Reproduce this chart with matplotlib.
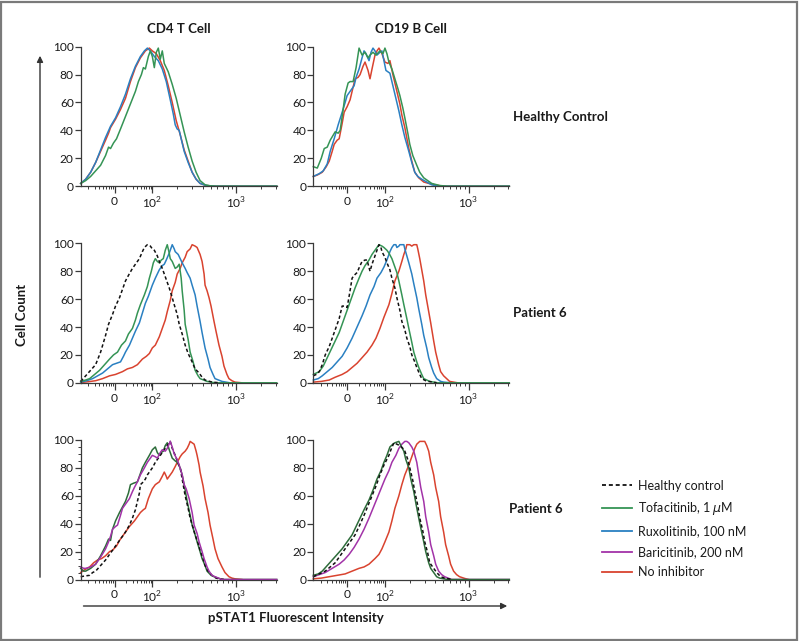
import numpy as np
import matplotlib
matplotlib.use('Agg')
import matplotlib.pyplot as plt
from matplotlib import patches
from matplotlib.lines import Line2D

plt.rcParams['font.family'] = ['Lato', 'DejaVu Sans']
plt.rcParams['mathtext.fontset'] = 'custom'
plt.rcParams['mathtext.rm'] = 'Lato'
plt.rcParams['mathtext.it'] = 'DejaVu Sans:italic'

# x = fluorescence channel (display units along the axis), y = % of max cell count
# --- Healthy control, CD4 T cell ---
cd4_hc_none = [(0, 2), (5, 5), (10, 10), (15, 17), (20, 25), (25, 33), (28, 38), (30, 42), (35, 48), (40, 55),
               (45, 63), (50, 75), (55, 85), (60, 92), (65, 97), (69, 99), (72, 97), (76, 95), (80, 90),
               (84, 83), (88, 72), (92, 60), (96, 47), (100, 37), (104, 26), (108, 18), (112, 10),
               (116, 5), (120, 2), (126, 0.5), (135, 0), (197, 0)]
cd4_hc_ruxo = [(0, 2), (5, 5), (10, 10), (15, 17), (20, 26), (25, 35), (30, 43), (35, 49), (40, 57), (45, 66),
               (50, 77), (55, 86), (60, 93), (64, 97), (67, 99), (70, 97), (74, 93), (78, 90), (82, 84),
               (86, 75), (90, 62), (93, 52), (95, 44), (97, 41), (99, 40), (101, 34), (104, 25), (108, 17),
               (112, 10), (116, 5), (120, 2), (126, 0.5), (135, 0), (197, 0)]
cd4_hc_tofa = [(0, 2), (5, 4), (10, 7), (15, 11), (20, 15), (25, 22), (28, 28), (30, 27), (33, 31), (36, 34),
               (40, 41), (45, 50), (50, 59), (55, 68), (58, 75), (61, 80), (63, 85), (65, 84), (68, 93),
               (70, 97), (72, 93), (74, 85), (76, 96), (78, 99), (80, 91), (82, 97), (84, 88), (88, 82),
               (92, 73), (96, 63), (100, 51), (104, 39), (108, 28), (112, 18), (116, 10), (120, 4),
               (125, 1), (130, 0.3), (136, 0), (197, 0)]

# --- Healthy control, CD19 B cell ---
cd19_hc_tofa = [(0, 14), (4, 13), (8, 20), (11, 27), (14, 28), (17, 33), (22, 39), (25, 38), (27, 40), (30, 55),
                (32, 66), (35, 74), (37, 75), (40, 75), (43, 85), (46, 99), (49, 94), (52, 96), (55, 92),
                (57, 94), (60, 96), (63, 94), (67, 97), (70, 95), (72, 99), (74, 95), (76, 89), (79, 84),
                (82, 77), (85, 70), (87, 65), (90, 56), (92, 49), (95, 38), (97, 30), (100, 22), (104, 15),
                (107, 10), (111, 6), (115, 4), (119, 2), (127, 0.5), (135, 0), (197, 0)]
cd19_hc_ruxo = [(0, 7), (3, 8), (6, 9), (10, 11), (14, 16), (17, 25), (21, 34), (25, 44), (29, 53), (32, 60),
                (34, 65), (37, 68), (41, 72), (43, 78), (46, 84), (49, 92), (51, 97), (53, 95), (56, 90),
                (58, 96), (60, 99), (62, 97), (64, 94), (67, 96), (69, 97), (71, 90), (73, 83), (75, 82),
                (77, 81), (80, 72), (83, 63), (86, 54), (89, 44), (92, 35), (96, 25), (99, 17), (102, 10),
                (105, 7), (109, 5), (114, 3), (119, 1), (126, 0), (197, 0)]
cd19_hc_none = [(0, 7), (4, 8), (9, 10), (13, 14), (16, 18), (19, 25), (21, 30), (24, 33), (26, 34), (29, 45),
                (31, 53), (34, 57), (37, 62), (39, 68), (42, 77), (45, 78), (47, 80), (50, 86), (52, 89),
                (55, 83), (57, 77), (59, 84), (62, 94), (64, 97), (66, 99), (69, 95), (72, 89), (75, 88),
                (77, 90), (80, 80), (84, 68), (87, 59), (89, 51), (92, 42), (96, 27), (99, 18), (102, 10),
                (106, 6), (111, 3), (116, 2), (122, 1), (130, 0), (197, 0)]

# --- Patient 6, CD4 T cell (tofacitinib / ruxolitinib) ---
cd4_p6_hc = [(0, 1), (5, 5), (10, 9), (15, 13), (20, 22), (25, 34), (28, 42), (32, 49), (35, 55), (39, 61),
             (42, 67), (45, 73), (48, 77), (52, 82), (55, 85), (59, 89), (62, 94), (64, 97), (67, 99),
             (70, 98), (72, 96), (74, 95), (77, 91), (79, 87), (82, 82), (84, 78), (87, 72), (89, 68),
             (92, 61), (94, 56), (97, 49), (99, 42), (102, 35), (105, 27), (108, 21), (112, 15), (115, 10),
             (119, 7), (122, 4), (125, 2), (132, 0.5), (140, 0)]
cd4_p6_tofa = [(0, 1), (5, 2), (9, 3), (14, 6), (19, 9), (24, 13), (29, 17), (33, 20), (37, 22), (41, 27),
               (45, 30), (48, 35), (52, 39), (55, 45), (57, 50), (60, 56), (64, 63), (67, 69), (69, 75),
               (71, 80), (73, 86), (75, 89), (77, 87), (79, 86), (81, 88), (83, 89), (85, 95), (87, 99),
               (89, 93), (90, 89), (92, 87), (95, 82), (97, 83), (99, 85), (101, 75), (102, 66), (104, 52),
               (105, 42), (108, 31), (110, 22), (113, 15), (115, 9), (118, 5), (120, 3), (127, 1), (135, 0),
               (197, 0)]
cd4_p6_ruxo = [(0, 0.5), (6, 1.5), (12, 3), (17, 5), (22, 7), (27, 10), (32, 13), (36, 14), (40, 15), (43, 19),
               (45, 22), (49, 27), (52, 32), (55, 37), (59, 43), (62, 50), (65, 57), (68, 62), (72, 70),
               (75, 75), (79, 81), (82, 84), (84, 85), (86, 88), (89, 93), (91, 97), (92, 99), (94, 96),
               (95, 94), (98, 92), (100, 89), (102, 86), (105, 82), (107, 79), (110, 75), (112, 70),
               (115, 63), (117, 55), (120, 44), (122, 36), (125, 25), (128, 17), (130, 11), (133, 6),
               (135, 3), (142, 1), (150, 0)]
cd4_p6_none = [(0, 0.2), (8, 0.8), (15, 1.5), (22, 3), (29, 5), (35, 6), (42, 8), (47, 10), (52, 11), (57, 13),
               (62, 17), (66, 19), (69, 21), (72, 25), (75, 27), (79, 33), (82, 39), (85, 45), (87, 51),
               (90, 59), (92, 66), (95, 72), (97, 78), (100, 82), (102, 86), (105, 90), (107, 94), (110, 96),
               (112, 99), (115, 98), (117, 97), (120, 92), (122, 87), (124, 78), (125, 70), (127, 66),
               (129, 61), (131, 55), (134, 44), (136, 37), (139, 27), (142, 19), (144, 12), (147, 6),
               (149, 3), (152, 1.5), (155, 0.5), (162, 0)]

# --- Patient 6, CD19 B cell (tofacitinib / ruxolitinib) ---
cd19_p6_hc = [(0, 5), (3, 6), (6, 8), (9, 13), (12, 20), (16, 26), (19, 32), (22, 38), (26, 46), (29, 55),
              (31, 55), (34, 54), (36, 62), (39, 75), (41, 77), (44, 79), (47, 84), (49, 87), (52, 88),
              (54, 88), (57, 80), (59, 85), (61, 89), (64, 95), (66, 99), (68, 97), (69, 94), (72, 90),
              (74, 86), (77, 81), (79, 75), (82, 68), (84, 61), (87, 52), (89, 44), (92, 38), (94, 32),
              (97, 26), (99, 20), (102, 15), (104, 11), (107, 6), (109, 3), (113, 1.5), (116, 1), (124, 0)]
cd19_p6_tofa = [(0, 6), (3, 7), (6, 8), (10, 12), (14, 18), (18, 24), (22, 30), (26, 36), (29, 42), (32, 48),
                (36, 56), (39, 62), (42, 68), (46, 75), (49, 80), (52, 84), (56, 88), (59, 92), (62, 95),
                (64, 97), (66, 99), (69, 98), (71, 97), (74, 95), (76, 93), (79, 89), (81, 85), (84, 79),
                (86, 73), (89, 63), (91, 56), (94, 46), (96, 39), (99, 29), (101, 22), (104, 15), (106, 11),
                (109, 6), (111, 3), (117, 1), (125, 0), (197, 0)]
cd19_p6_ruxo = [(0, 2), (5, 3), (9, 5), (14, 8), (19, 11), (24, 15), (29, 19), (34, 25), (39, 32), (44, 40),
                (49, 48), (53, 55), (57, 63), (61, 69), (64, 75), (68, 79), (71, 83), (74, 88), (77, 94),
                (79, 97), (81, 99), (83, 99), (84, 97), (86, 98), (87, 99), (89, 99), (91, 99), (92, 96),
                (94, 91), (96, 86), (99, 78), (101, 71), (104, 61), (106, 53), (109, 42), (111, 34),
                (114, 25), (116, 18), (119, 11), (121, 7), (124, 3), (128, 1), (131, 0.5), (138, 0)]
cd19_p6_none = [(0, 0.5), (8, 1), (16, 2), (22, 4), (29, 6), (34, 8), (39, 11), (44, 14), (49, 18), (54, 22),
                (59, 27), (63, 32), (67, 39), (71, 47), (76, 56), (79, 64), (82, 73), (86, 80), (89, 87),
                (91, 92), (93, 96), (94, 99), (97, 99), (99, 98), (101, 99), (104, 99), (105, 96), (107, 89),
                (109, 81), (111, 73), (113, 63), (116, 51), (118, 43), (121, 30), (123, 22), (126, 13),
                (128, 8), (131, 5), (134, 3), (137, 1), (145, 0)]

# --- Patient 6, CD4 T cell (tofacitinib / baricitinib) ---
cd4_p6b_hc = [(0, 2), (4, 2.5), (9, 3), (12, 5), (15, 6), (20, 10), (25, 14), (30, 19), (35, 24), (40, 29),
              (45, 34), (49, 39), (52, 44), (55, 50), (57, 56), (59, 62), (60, 68), (63, 70), (65, 72),
              (67, 75), (69, 77), (72, 80), (75, 84), (78, 87), (80, 89), (83, 92), (85, 94), (88, 97),
              (90, 99), (92, 94), (95, 89), (97, 85), (100, 80), (102, 72), (105, 60), (108, 51), (110, 44),
              (113, 37), (115, 32), (118, 26), (120, 21), (123, 15), (125, 10), (128, 6), (132, 3),
              (136, 1), (139, 0.5), (146, 0)]
cd4_p6b_tofa = [(0, 8), (3, 6), (5, 6), (10, 8), (15, 11), (20, 17), (25, 24), (28, 29), (30, 28), (32, 36),
                (35, 42), (39, 48), (42, 52), (45, 56), (48, 62), (50, 68), (53, 69), (57, 70), (60, 76),
                (62, 80), (65, 84), (69, 89), (72, 93), (75, 95), (77, 91), (79, 89), (81, 91), (83, 92),
                (85, 96), (87, 98), (89, 93), (92, 87), (95, 85), (97, 84), (100, 80), (102, 75), (105, 64),
                (107, 56), (110, 46), (112, 39), (115, 32), (117, 27), (120, 20), (122, 15), (125, 10),
                (127, 6), (131, 3), (134, 2), (142, 0), (197, 0)]
cd4_p6b_bari = [(0, 9), (3, 8), (5, 8), (10, 9), (15, 11), (20, 16), (25, 22), (28, 27), (30, 31), (32, 36),
                (35, 38), (37, 39), (40, 46), (42, 51), (45, 54), (49, 58), (52, 63), (54, 66), (57, 70),
                (60, 75), (64, 80), (67, 84), (70, 87), (72, 89), (75, 88), (77, 87), (80, 91), (82, 93),
                (85, 92), (87, 94), (90, 99), (92, 95), (94, 90), (97, 86), (99, 82), (102, 75), (104, 68),
                (106, 65), (109, 58), (112, 48), (114, 39), (117, 33), (119, 27), (122, 20), (124, 15),
                (127, 9), (129, 6), (132, 3), (135, 2), (142, 0), (197, 0)]
cd4_p6b_none = [(0, 5), (4, 7), (9, 9), (13, 12), (17, 14), (21, 15), (25, 17), (29, 20), (32, 21), (36, 24),
                (39, 28), (42, 31), (45, 34), (49, 38), (54, 42), (57, 45), (60, 48), (63, 50), (65, 51),
                (68, 58), (72, 65), (75, 68), (79, 70), (82, 74), (84, 77), (86, 74), (87, 72), (90, 75),
                (92, 77), (95, 81), (97, 84), (100, 88), (102, 90), (105, 92), (107, 94), (109, 97),
                (110, 99), (112, 98), (114, 97), (116, 92), (117, 89), (119, 82), (120, 77), (123, 67),
                (125, 58), (128, 48), (130, 39), (133, 29), (135, 22), (138, 15), (142, 9), (145, 5),
                (149, 2), (152, 1), (155, 0.5), (162, 0)]

# --- Patient 6, CD19 B cell (tofacitinib / baricitinib) ---
cd19_p6b_tofa = [(0, 3), (5, 4), (9, 6), (14, 10), (19, 14), (24, 18), (29, 22), (34, 27), (39, 32), (43, 38),
                 (47, 44), (51, 50), (56, 57), (60, 64), (64, 72), (68, 78), (71, 84), (74, 89), (77, 95),
                 (80, 97), (82, 98), (86, 99), (88, 96), (91, 92), (93, 86), (96, 80), (98, 72), (101, 63),
                 (103, 55), (106, 44), (108, 37), (111, 27), (113, 20), (116, 12), (118, 8), (121, 5),
                 (124, 2), (127, 1), (135, 0), (197, 0)]
cd19_p6b_hc = [(0, 2), (6, 4), (12, 6), (17, 9), (22, 12), (27, 17), (32, 22), (37, 27), (42, 32), (46, 38),
               (51, 46), (55, 53), (59, 60), (63, 67), (67, 75), (71, 82), (76, 89), (78, 93), (81, 98),
               (84, 97), (87, 96), (90, 94), (92, 92), (95, 86), (97, 80), (100, 71), (102, 63), (105, 53),
               (107, 44), (110, 35), (112, 27), (115, 19), (117, 12), (121, 8), (124, 5), (128, 2),
               (132, 1), (140, 0)]
cd19_p6b_bari = [(0, 2), (6, 3.5), (12, 5), (19, 8), (26, 11), (31, 14), (36, 18), (41, 23), (46, 29), (51, 36),
                 (56, 44), (60, 51), (64, 58), (68, 65), (72, 72), (76, 78), (79, 84), (83, 89), (86, 94),
                 (89, 97), (92, 99), (94, 99), (96, 98), (99, 95), (101, 92), (104, 84), (106, 75), (108, 66),
                 (111, 56), (113, 45), (116, 34), (118, 25), (121, 17), (123, 11), (126, 6), (129, 3.5),
                 (132, 2), (139, 0), (197, 0)]
cd19_p6b_none = [(0, 0.5), (8, 1), (16, 2), (24, 3), (32, 4), (39, 6), (46, 8), (51, 9), (56, 11), (59, 13),
                 (62, 15), (66, 18), (69, 22), (72, 27), (76, 34), (79, 42), (82, 51), (86, 60), (89, 68),
                 (92, 75), (96, 82), (99, 88), (102, 94), (104, 97), (107, 99), (110, 99), (112, 99),
                 (114, 96), (116, 92), (118, 84), (121, 75), (123, 66), (126, 56), (128, 45), (131, 34),
                 (133, 25), (136, 17), (138, 11), (141, 6), (144, 3.5), (147, 2), (152, 0.8), (156, 0)]

columns = ['CD4 T Cell', 'CD19 B Cell']
rows = ['Healthy Control', 'Patient 6', 'Patient 6']
tick_labels = ['0', '$10^2$', '$10^3$']
legend_labels = ['Healthy control', 'Tofacitinib, 1 $\\mathit{\\mu}$M', 'Ruxolitinib, 100 nM',
                 'Baricitinib, 200 nM', 'No inhibitor']

C_HC = '#111111'
C_TOFA = '#359455'
C_TOFA_DARK = '#2d6c3a'
C_RUXO = '#2a80c2'
C_BARI = '#a233a8'
C_NONE = '#d9432f'

# (curve, colour, dashed) per panel, drawn in this order
panels = [
    [[(cd4_hc_none, C_NONE, False), (cd4_hc_ruxo, C_RUXO, False), (cd4_hc_tofa, C_TOFA, False)],
     [(cd19_hc_none, C_NONE, False), (cd19_hc_ruxo, C_RUXO, False), (cd19_hc_tofa, C_TOFA, False)]],
    [[(cd4_p6_none, C_NONE, False), (cd4_p6_ruxo, C_RUXO, False), (cd4_p6_tofa, C_TOFA, False),
      (cd4_p6_hc, C_HC, True)],
     [(cd19_p6_none, C_NONE, False), (cd19_p6_ruxo, C_RUXO, False), (cd19_p6_tofa, C_TOFA, False),
      (cd19_p6_hc, C_HC, True)]],
    [[(cd4_p6b_none, C_NONE, False), (cd4_p6b_tofa, C_TOFA_DARK, False), (cd4_p6b_hc, C_HC, True),
      (cd4_p6b_bari, C_BARI, False)],
     [(cd19_p6b_none, C_NONE, False), (cd19_p6b_bari, C_BARI, False), (cd19_p6b_tofa, C_TOFA_DARK, False),
      (cd19_p6b_hc, C_HC, True)]],
]

# axis channel positions of 0, 10^2, 10^3 (biexponential display)
CH_ZERO, CH_100, CH_1000 = 34, 72, 156
lin_dec = CH_100 - CH_ZERO
log_dec = CH_1000 - CH_100
k = np.arange(2, 10)
minor_x = np.concatenate([
    lin_dec * np.log10(k) - 4,
    CH_ZERO + lin_dec * np.log10(k),
    CH_100 + log_dec * np.log10(k),
    CH_1000 + log_dec * np.log10([2, 3]),
])

W, H = 800, 641
fig = plt.figure(figsize=(W / 100, H / 100), dpi=100)

ax_left = [80.7, 313.3]
ax_top = [46.7, 243.3, 440.0]
ax_w, ax_h = 196, 139.5

AX_COL = '#3a3a3a'
for r in range(3):
    for c in range(2):
        ax = fig.add_axes([ax_left[c] / W, 1 - (ax_top[r] + ax_h) / H, ax_w / W, ax_h / H])
        for curve, col, dashed in panels[r][c]:
            xs = [p[0] for p in curve]
            ys = [p[1] for p in curve]
            ax.plot(xs, ys, color=col, lw=1.1, ls=(0, (2.2, 1.6)) if dashed else '-',
                    clip_on=False, solid_joinstyle='round')
        ax.set_xlim(0, 197)
        ax.set_ylim(0, 100)
        for s in ['top', 'right']:
            ax.spines[s].set_visible(False)
        for s in ['left', 'bottom']:
            ax.spines[s].set_color(AX_COL)
            ax.spines[s].set_linewidth(0.9)
        ax.set_yticks([0, 20, 40, 60, 80, 100])
        ax.set_xticks([CH_ZERO, CH_100, CH_1000])
        ax.set_xticklabels(tick_labels)
        ax.set_xticks(minor_x, minor=True)
        if r == 2 and c == 0:
            ax.set_yticks(np.arange(0, 101, 5), minor=True)
        ax.tick_params(axis='both', which='major', colors=AX_COL, labelcolor='#1a1a1a',
                       labelsize=8.6, width=0.9)
        ax.tick_params(axis='y', which='major', length=4, pad=1)
        ax.tick_params(axis='x', which='major', length=5, pad=2)
        ax.tick_params(axis='both', which='minor', colors=AX_COL, length=2.5, width=0.7)

# column and row headings
for c, name in enumerate(columns):
    fig.text((ax_left[c] + 98) / W, 1 - 29 / H, name, ha='center', va='center',
             fontsize=9.5, fontweight='bold', color='#1a1a1a')
row_y = [117, 313, 509]
row_x = [513, 513, 509]
for r, name in enumerate(rows):
    fig.text(row_x[r] / W, 1 - row_y[r] / H, name, ha='left', va='center',
             fontsize=9.5, fontweight='bold', color='#1a1a1a')

# big axis arrows
fig.add_artist(patches.FancyArrowPatch((40 / W, 1 - 580 / H), (40 / W, 1 - 53 / H),
                                       transform=fig.transFigure, arrowstyle='-|>',
                                       mutation_scale=9, lw=1.0, color='#333333'))
fig.add_artist(patches.FancyArrowPatch((80.7 / W, 1 - 606 / H), (510 / W, 1 - 606 / H),
                                       transform=fig.transFigure, arrowstyle='-|>',
                                       mutation_scale=9, lw=1.0, color='#333333'))
fig.text(22 / W, 1 - 315 / H, 'Cell Count', rotation=90, ha='center', va='center',
         fontsize=9.5, fontweight='bold', color='#1a1a1a')
fig.text(296 / W, 1 - 618 / H, 'pSTAT1 Fluorescent Intensity', ha='center', va='center',
         fontsize=9.5, fontweight='bold', color='#1a1a1a')

# legend
handles = [Line2D([], [], color=C_HC, lw=1.3, ls=(0, (2.2, 1.6))),
           Line2D([], [], color=C_TOFA, lw=1.3),
           Line2D([], [], color=C_RUXO, lw=1.3),
           Line2D([], [], color=C_BARI, lw=1.3),
           Line2D([], [], color=C_NONE, lw=1.3)]
fig.legend(handles, legend_labels, loc='upper left', bbox_to_anchor=(599 / W, 1 - 477 / H),
           frameon=False, fontsize=9, handlelength=2.4, handletextpad=0.55, labelspacing=0.68,
           borderpad=0.2, borderaxespad=0, labelcolor='#1a1a1a')

# outer frame
fig.add_artist(patches.Rectangle((0.0015, 0.002), 0.995, 0.995, transform=fig.transFigure,
                                 fill=False, edgecolor='#7a7a7a', lw=1.6))

fig.savefig('out.png', dpi=100, facecolor='white')
